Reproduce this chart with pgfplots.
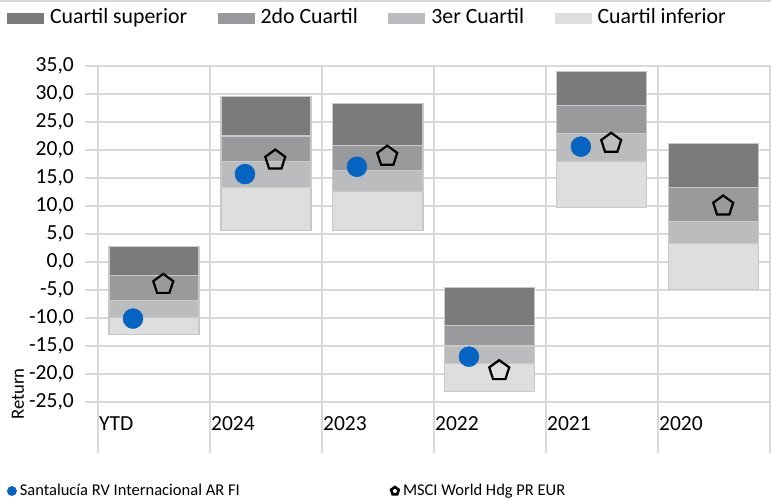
\documentclass[border=0pt]{standalone}
\usepackage{fontspec}
\setmainfont{Carlito}
\usepackage{pgfplots}
\usepackage{pgfplotstable}
\pgfplotsset{compat=1.18}
\usetikzlibrary{shapes.geometric}

\definecolor{qa}{HTML}{7B7B7C}
\definecolor{qb}{HTML}{999A9B}
\definecolor{qc}{HTML}{BBBCBD}
\definecolor{qd}{HTML}{DEDEDE}
\definecolor{bord}{HTML}{C9C9C9}
\definecolor{gridc}{HTML}{D9D9D9}
\definecolor{fundblue}{HTML}{0563C1}

% category centre, base (bottom of range), then stacked increments:
% q4 = Cuartil inferior, q3 = 3er Cuartil, q2 = 2do Cuartil, q1 = Cuartil superior
\pgfplotstableread{
x    base   q4   q3   q2   q1
0.5  -12.9  3.0  3.1  4.4  5.1
1.5  5.7    7.6  4.6  4.6  7.0
2.5  5.7    6.9  3.8  4.4  7.5
3.5  -23.2  5.0  3.2  3.6  6.9
4.5  9.8    8.1  5.0  5.0  6.1
5.5  -4.9   8.2  3.9  6.1  7.8
}\quart

\pgfplotstableread{
x       y
0.3125  -10.1
1.3125  15.7
2.3125  17.0
3.3125  -16.9
4.3125  20.6
}\fund

\pgfplotstableread{
x       y
0.583   -4.0
1.583   18.2
2.583   18.9
3.583   -19.4
4.583   21.2
5.583   10.0
}\index

\pgfplotsset{baseaxis/.style={scale only axis, width=686bp, height=387bp,
  xmin=-0.1161, xmax=6.01, ymin=-34.107, ymax=35, at={(0,0)}, anchor=south west}}

\begin{document}
\begin{tikzpicture}
\begin{axis}[baseaxis,
  ybar stacked, stack negative=on previous, bar width=0.804,
  axis line style={draw=none},
  major tick length=0pt,
  xtick={0,1,2,3,4,5,6},
  xticklabels={YTD,2024,2023,2022,2021,2020,{}},
  ytick={-25,-20,-15,-10,-5,0,5,10,15,20,25,30,35},
  xmajorgrids, ymajorgrids,
  grid style={gridc, line width=1.5bp},
  tick label style={font=\fontsize{21.5bp}{25bp}\selectfont},
  yticklabel style={anchor=east, inner sep=0pt, xshift=-11bp},
  y tick label style={/pgf/number format/.cd, fixed, fixed zerofill, precision=1, use comma, assume math mode=true},
  xticklabel style={anchor=west, inner sep=0pt, xshift=1bp, yshift=29bp},
  ylabel={Return},
  ylabel style={at={(axis description cs:-0.0977,0.1525)}, anchor=center, font=\fontsize{18.7bp}{22bp}\selectfont},
  legend columns=4,
  legend cell align=left,
  legend style={at={(axis description cs:-0.1137,1.1266)}, anchor=west, draw=none, fill=none,
    inner sep=0pt, outer sep=0pt, font=\fontsize{21.8bp}{25bp}\selectfont,
    nodes={inner sep=0pt},
    /tikz/every odd column/.append style={column sep=6.6bp},
    /tikz/every even column/.append style={column sep=30.5bp}},
]
\addplot[draw=none, fill=none, forget plot] table[x=x, y=base]{\quart};
\addplot[fill=qd, draw=bord, line width=1.1bp, forget plot] table[x=x, y=q4]{\quart};
\addplot[fill=qc, draw=bord, line width=1.1bp, forget plot] table[x=x, y=q3]{\quart};
\addplot[fill=qb, draw=bord, line width=1.1bp, forget plot] table[x=x, y=q2]{\quart};
\addplot[fill=qa, draw=bord, line width=1.1bp, forget plot] table[x=x, y=q1]{\quart};

\addlegendimage{legend image code/.code={\fill[qa] (0bp,-6.3bp) rectangle (36bp,3.7bp);}}
\addlegendentry{Cuartil superior}
\addlegendimage{legend image code/.code={\fill[qb] (0bp,-6.3bp) rectangle (36bp,3.7bp);}}
\addlegendentry{2do Cuartil}
\addlegendimage{legend image code/.code={\fill[qc] (0bp,-6.3bp) rectangle (36bp,3.7bp);}}
\addlegendentry{3er Cuartil}
\addlegendimage{legend image code/.code={\fill[qd] (0bp,-6.3bp) rectangle (36bp,3.7bp);}}
\addlegendentry{Cuartil inferior}
\end{axis}

\begin{axis}[baseaxis, hide axis, clip=false,
  legend columns=2,
  legend cell align=left,
  legend style={at={(axis description cs:-0.1137,-0.0982)}, anchor=west, draw=none, fill=none,
    inner sep=0pt, outer sep=0pt, font=\fontsize{16.5bp}{19bp}\selectfont,
    nodes={inner sep=0pt},
    /tikz/every odd column/.append style={column sep=3bp},
    /tikz/every even column/.append style={column sep=150bp}},
]
\addplot[only marks, mark=*, mark size=10bp, color=fundblue, forget plot] table[x=x, y=y]{\fund};
\addplot[only marks, mark=pentagon, mark size=10.5bp, mark options={black, line width=2.2bp, line join=miter}, forget plot] table[x=x, y=y]{\index};

\addlegendimage{legend image code/.code={\fill[fundblue] (4.7bp,0bp) circle (4.7bp);}}
\addlegendentry{Santalucía RV Internacional AR FI}
\addlegendimage{legend image code/.code={\node[regular polygon, regular polygon sides=5, draw=black, line width=2.6bp, minimum size=8bp, inner sep=0pt] at (5bp,0bp) {};}}
\addlegendentry{MSCI World Hdg PR EUR}
\end{axis}

\draw[gridc, line width=2.5bp] (-85bp,451.8bp) -- (686bp,451.8bp);
\pgfresetboundingbox
\useasboundingbox (-85bp,-46bp) rectangle (686bp,453bp);
\end{tikzpicture}
\end{document}
